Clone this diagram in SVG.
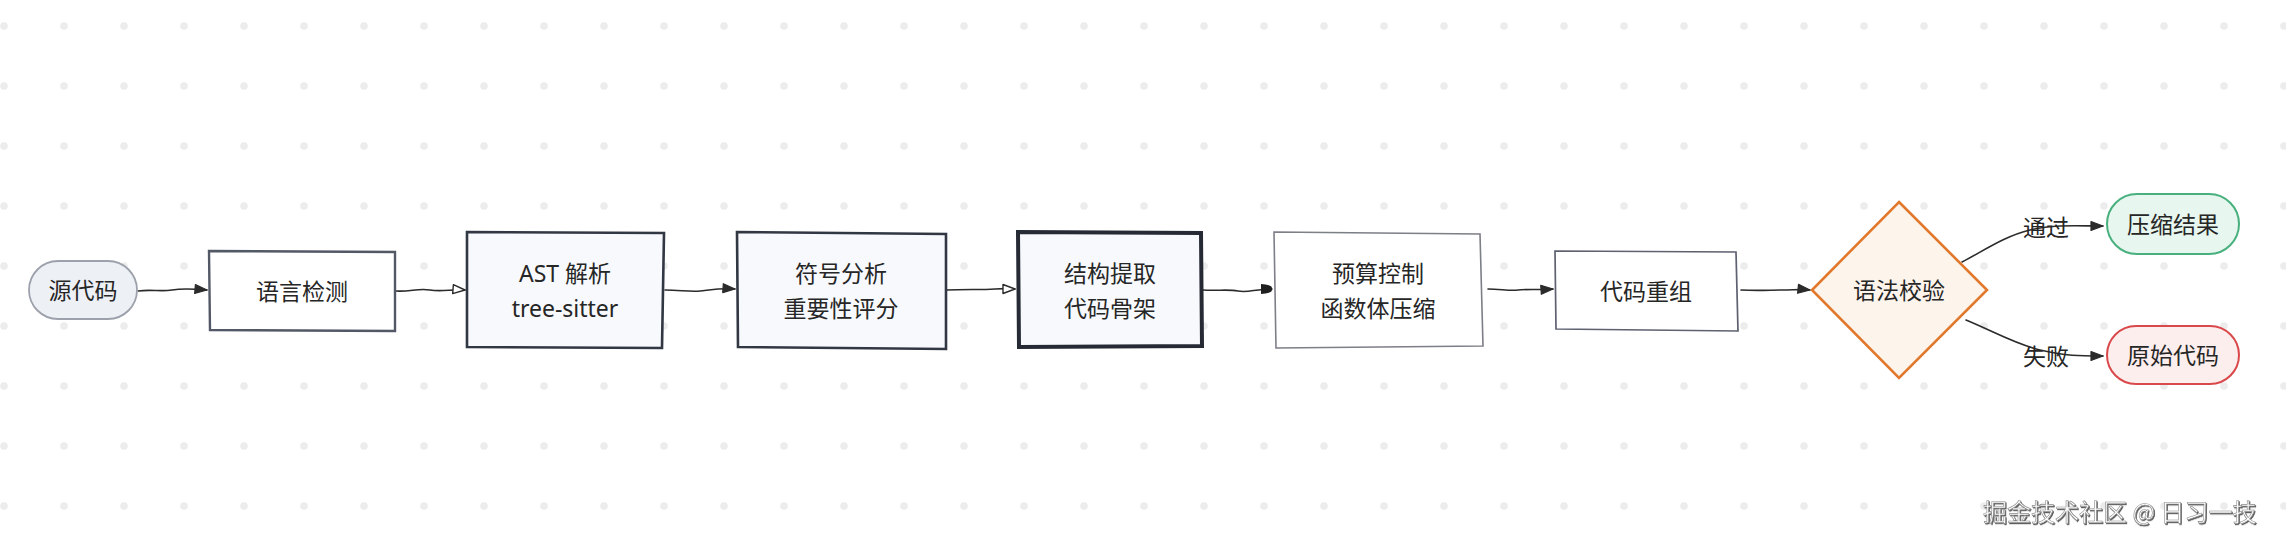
<svg xmlns="http://www.w3.org/2000/svg" width="2286" height="540" viewBox="0 0 2286 540">
  <defs>
    <pattern id="dots" patternUnits="userSpaceOnUse" x="-26" y="-4" width="60" height="60">
      <circle cx="30" cy="30" r="3.8" fill="#ececec"/>
    </pattern>
    <marker id="arrFill" viewBox="0 0 14 12" refX="13" refY="6" markerWidth="14" markerHeight="12" markerUnits="userSpaceOnUse" orient="auto">
      <path d="M1,1.5 L13,6 L1,10.5 Z" fill="#2b2b2b" stroke="#2b2b2b" stroke-width="1.2" stroke-linejoin="round"/>
    </marker>
    <marker id="arrOpen" viewBox="0 0 14 12" refX="13" refY="6" markerWidth="14" markerHeight="12" markerUnits="userSpaceOnUse" orient="auto">
      <path d="M1,1.5 L13,6 L1,10.5 Z" fill="#ffffff" stroke="#2b2b2b" stroke-width="1.4" stroke-linejoin="round"/>
    </marker>
    <marker id="arrDot" viewBox="0 0 13 13" refX="12" refY="6.5" markerWidth="13" markerHeight="13" markerUnits="userSpaceOnUse" orient="auto">
      <path d="M1,1.5 Q13,2 12,6.5 Q13,11 1,11.5 Z" fill="#1f1f1f"/>
    </marker>
    <filter id="wmShadow" x="-5%" y="-30%" width="110%" height="160%">
      <feDropShadow dx="1" dy="1.2" stdDeviation="0.7" flood-color="#444" flood-opacity="0.9"/>
    </filter>
    <style>
      .t { font-family: "Noto Sans", "Noto Sans CJK SC", sans-serif; font-size: 23px; fill: #262626; text-anchor: middle; dominant-baseline: central; }
      .lbl { font-family: "Noto Sans CJK SC", "Noto Sans", sans-serif; font-size: 23px; fill: #262626; text-anchor: middle; dominant-baseline: central; }
      .conn { fill: none; stroke: #2b2b2b; stroke-width: 1.6; stroke-linecap: round; }
      .pillGray { fill: #edf0f5; stroke: #9ca1ab; stroke-width: 1.8; }
      .boxMid { fill: #ffffff; stroke: #535866; stroke-width: 2.4; }
      .boxDark { fill: #f7f9fc; stroke: #323744; stroke-width: 2.6; }
      .boxHeavy { fill: #f7f9fc; stroke: #262a35; stroke-width: 4; }
      .boxThin { fill: #ffffff; stroke: #7c7f86; stroke-width: 1.6; }
      .boxThin2 { fill: #ffffff; stroke: #5d6170; stroke-width: 1.7; }
      .diamond { fill: #fdf5ec; stroke: #e2782c; stroke-width: 2.6; stroke-linejoin: miter; }
      .pillGreen { fill: #e7f6ee; stroke: #48b07e; stroke-width: 2; }
      .pillRed { fill: #fdeeee; stroke: #d9484a; stroke-width: 2; }
      .wm { font-family: "Noto Sans CJK SC", "Noto Sans", sans-serif; font-size: 24px; fill: #ffffff; stroke: #8a8a8a; stroke-width: 0.6; text-anchor: start; dominant-baseline: central; }
    </style>
  </defs>

  <rect x="0" y="0" width="2286" height="540" fill="#ffffff"/>
  <rect x="0" y="0" width="2286" height="540" fill="url(#dots)"/>

  <g id="connectors">
    <path class="conn" d="M138,291 C152,289 160,292 172,290 S195,289 207,290" marker-end="url(#arrFill)"/>
    <path class="conn" d="M396,291 C410,292 418,288 430,290 S452,289 465,290" marker-end="url(#arrOpen)"/>
    <path class="conn" d="M665,290 C680,290 690,292 700,291 S720,288 735,289" marker-end="url(#arrFill)"/>
    <path class="conn" d="M947,290 C965,289 980,290 995,289 S1008,289 1015,289" marker-end="url(#arrOpen)"/>
    <path class="conn" d="M1203,290 C1218,291 1228,289 1238,291 S1255,289 1272,289" marker-end="url(#arrDot)"/>
    <path class="conn" d="M1488,289 C1500,289 1510,291 1518,290 S1538,290 1553,289" marker-end="url(#arrFill)"/>
    <path class="conn" d="M1741,290 C1760,291 1770,290 1782,290 S1800,289 1810,290" marker-end="url(#arrFill)"/>
    <path class="conn" d="M1962,262 C1985,250 2005,236 2030,230 S2080,226 2103,226" marker-end="url(#arrFill)"/>
    <path class="conn" d="M1966,320 C1995,332 2015,344 2040,350 S2080,356 2103,356" marker-end="url(#arrFill)"/>
    <text class="lbl" x="2046" y="226">通过</text>
    <text class="lbl" x="2046" y="355">失败</text>
  </g>

  <g id="n-source">
    <rect class="pillGray" x="29" y="261" width="108" height="58" rx="29" ry="29"/>
    <text class="t" x="83" y="290">源代码</text>
  </g>

  <g id="n-lang">
    <path class="boxMid" d="M209,251 L395,252 L395,331 L210,330 Z"/>
    <text class="t" x="302" y="291">语言检测</text>
  </g>

  <g id="n-ast">
    <path class="boxDark" d="M467,232 L664,233 L662,348 L467,347 Z"/>
    <text class="t" x="565" y="273">AST 解析</text>
    <text class="t" x="565" y="308">tree-sitter</text>
  </g>

  <g id="n-symbol">
    <path class="boxDark" d="M737,232 L946,234 L946,349 L738,347 Z"/>
    <text class="t" x="841" y="273">符号分析</text>
    <text class="t" x="841" y="308">重要性评分</text>
  </g>

  <g id="n-struct">
    <path class="boxHeavy" d="M1018,232 L1201,233 L1202,346 L1019,347 Z"/>
    <text class="t" x="1110" y="273">结构提取</text>
    <text class="t" x="1110" y="308">代码骨架</text>
  </g>

  <g id="n-budget">
    <path class="boxThin" d="M1274,232 L1480,234 L1483,346 L1276,348 Z"/>
    <text class="t" x="1378" y="273">预算控制</text>
    <text class="t" x="1378" y="308">函数体压缩</text>
  </g>

  <g id="n-rebuild">
    <path class="boxThin2" d="M1555,251 L1736,252 L1738,331 L1556,329 Z"/>
    <text class="t" x="1646" y="291">代码重组</text>
  </g>

  <g id="n-check">
    <path class="diamond" d="M1899,202 L1987,290 L1899,378 L1812,290 Z"/>
    <text class="t" x="1899" y="290">语法校验</text>
  </g>

  <g id="n-pass">
    <rect class="pillGreen" x="2107" y="194" width="132" height="60" rx="30" ry="30"/>
    <text class="t" x="2173" y="224">压缩结果</text>
  </g>

  <g id="n-fail">
    <rect class="pillRed" x="2107" y="326" width="132" height="58" rx="29" ry="29"/>
    <text class="t" x="2173" y="355">原始代码</text>
  </g>

  <text class="wm" x="1983" y="510" filter="url(#wmShadow)">掘金技术社区 @ 日习一技</text>
</svg>
